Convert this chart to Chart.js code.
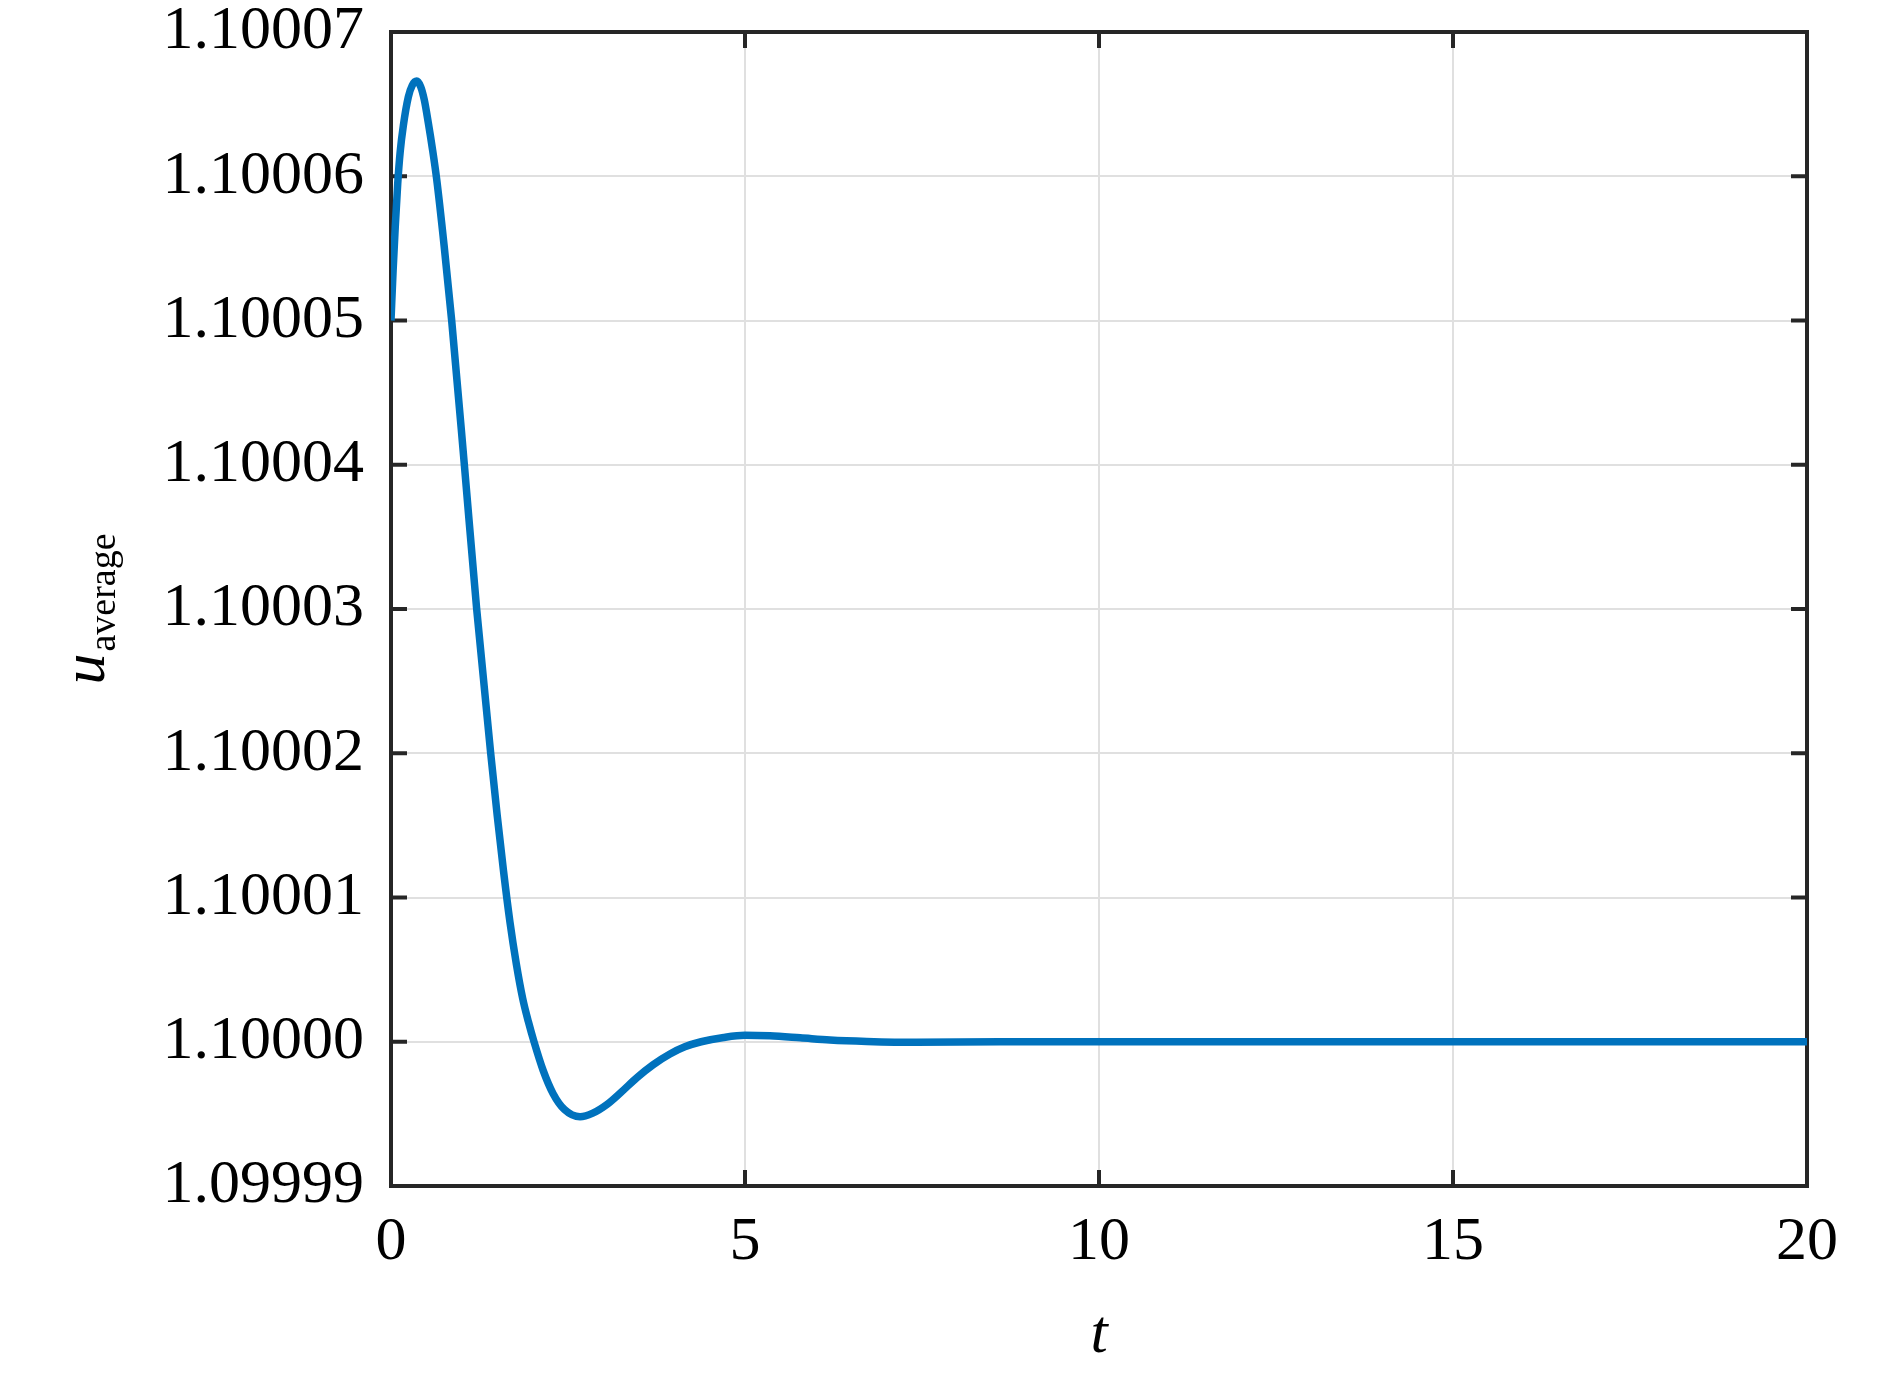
<!DOCTYPE html>
<html>
<head>
<meta charset="utf-8">
<script src="https://cdn.jsdelivr.net/npm/chart.js@4.4.1/dist/chart.umd.min.js"></script>
<style>
  html, body { margin: 0; padding: 0; background: #ffffff; }
  #wrap { width: 1890px; height: 1375px; }
</style>
</head>
<body>
<div id="wrap"><canvas id="c" width="1890" height="1375"></canvas></div>
<script>
// ---- data ----
const tValues = [0, 0.03, 0.06, 0.095, 0.13, 0.174, 0.245, 0.30, 0.363, 0.42, 0.47, 0.527, 0.585, 0.645, 0.75, 0.857, 1.036, 1.21, 1.408, 1.50, 1.59, 1.68, 1.77, 1.86, 1.94, 2.02, 2.15, 2.29, 2.45, 2.67, 2.85, 3.05, 3.25, 3.47, 3.7, 3.94, 4.15, 4.38, 4.7, 5.0, 5.35, 5.78, 6.2, 6.72, 7.42, 8.6, 12, 16, 20];
const uAverage = [1.10005, 1.1000535, 1.1000565, 1.1000595, 1.1000617, 1.1000635, 1.1000655, 1.1000663, 1.1000666, 1.1000662, 1.1000653, 1.1000637, 1.1000619, 1.1000598, 1.1000552, 1.10005, 1.10004, 1.10003, 1.10002, 1.1000157, 1.1000118, 1.1000083, 1.1000054, 1.100003, 1.1000014, 1.1, 1.099998, 1.0999964, 1.0999953, 1.0999948, 1.09999505, 1.09999565, 1.0999965, 1.0999975, 1.0999984, 1.09999915, 1.09999965, 1.1, 1.1000003, 1.10000045, 1.10000041, 1.10000027, 1.10000012, 1.10000002, 1.09999996, 1.1, 1.1, 1.1, 1.1];
const xTickValues = [0, 5, 10, 15, 20];
const xTickLabels = ['0', '5', '10', '15', '20'];
const yTickValues = [1.09999, 1.10000, 1.10001, 1.10002, 1.10003, 1.10004, 1.10005, 1.10006, 1.10007];
const yTickLabels = ['1.09999', '1.10000', '1.10001', '1.10002', '1.10003', '1.10004', '1.10005', '1.10006', '1.10007'];
const xTitle = 't';
const yTitleMain = 'u';
const yTitleSub = 'average';

const FONT = '"Liberation Serif", "Times New Roman", serif';
const AXIS_COLOR = '#262626';

const points = tValues.map((t, i) => ({ x: t, y: uAverage[i] }));

const framePlugin = {
  id: 'matlabFrame',
  beforeDatasetsDraw(chart) {
    const { ctx, chartArea: a, scales } = chart;
    ctx.save();
    ctx.strokeStyle = AXIS_COLOR;
    ctx.lineWidth = 4;
    ctx.lineCap = 'butt';
    const tl = 16;
    ctx.beginPath();
    scales.y.ticks.forEach(tk => {
      const y = scales.y.getPixelForValue(tk.value);
      ctx.moveTo(a.left, y); ctx.lineTo(a.left + tl, y);
      ctx.moveTo(a.right, y); ctx.lineTo(a.right - tl, y);
    });
    scales.x.ticks.forEach(tk => {
      const x = scales.x.getPixelForValue(tk.value);
      ctx.moveTo(x, a.bottom); ctx.lineTo(x, a.bottom - tl);
      ctx.moveTo(x, a.top); ctx.lineTo(x, a.top + tl);
    });
    ctx.stroke();
    ctx.strokeRect(a.left, a.top, a.right - a.left, a.bottom - a.top);
    ctx.restore();
  },
  afterDraw(chart) {
    const { ctx, chartArea: a } = chart;
    ctx.save();
    ctx.fillStyle = '#000000';
    // x title
    ctx.font = 'italic 62px ' + FONT;
    ctx.textAlign = 'center';
    ctx.textBaseline = 'alphabetic';
    ctx.fillText(xTitle, (a.left + a.right) / 2, 1352);
    // y title with subscript, rotated
    ctx.font = 'italic 62px ' + FONT;
    const wu = ctx.measureText(yTitleMain).width;
    ctx.font = '38px ' + FONT;
    const ws = ctx.measureText(yTitleSub).width;
    const total = wu + 2 + ws;
    const cy = (a.top + a.bottom) / 2;
    ctx.translate(104, cy + total / 2);
    ctx.rotate(-Math.PI / 2);
    ctx.textAlign = 'left';
    ctx.font = 'italic 62px ' + FONT;
    ctx.fillText(yTitleMain, 0, 0);
    ctx.font = '38px ' + FONT;
    ctx.fillText(yTitleSub, wu + 2, 11);
    ctx.restore();
  }
};

new Chart(document.getElementById('c'), {
  type: 'line',
  data: {
    datasets: [{
      data: points,
      borderColor: '#0072BD',
      borderWidth: 7.5,
      pointRadius: 0,
      fill: false,
      cubicInterpolationMode: 'monotone'
    }]
  },
  options: {
    responsive: false,
    animation: false,
    devicePixelRatio: 1,
    layout: { padding: { top: 32, right: 83, left: 0, bottom: 0 } },
    plugins: { legend: { display: false }, tooltip: { enabled: false } },
    scales: {
      x: {
        type: 'linear',
        min: 0, max: 20,
        afterBuildTicks: s => { s.ticks = xTickValues.map(v => ({ value: v })); },
        afterFit: s => { s.height = 189; s.paddingLeft = 0; s.paddingRight = 0; },
        ticks: {
          callback: (v, i) => xTickLabels[i],
          font: { family: FONT, size: 62 },
          color: '#000000',
          padding: 20,
          maxRotation: 0
        },
        grid: { color: '#e0e0e0', lineWidth: 2, drawTicks: false },
        border: { display: false }
      },
      y: {
        type: 'linear',
        min: 1.09999, max: 1.10007,
        afterBuildTicks: s => { s.ticks = yTickValues.map(v => ({ value: v })); },
        afterFit: s => { s.width = 391; s.paddingTop = 0; s.paddingBottom = 0; },
        ticks: {
          callback: (v, i) => yTickLabels[i],
          font: { family: FONT, size: 62 },
          color: '#000000',
          padding: 27
        },
        grid: { color: '#e0e0e0', lineWidth: 2, drawTicks: false },
        border: { display: false }
      }
    }
  },
  plugins: [framePlugin]
});
</script>
</body>
</html>
